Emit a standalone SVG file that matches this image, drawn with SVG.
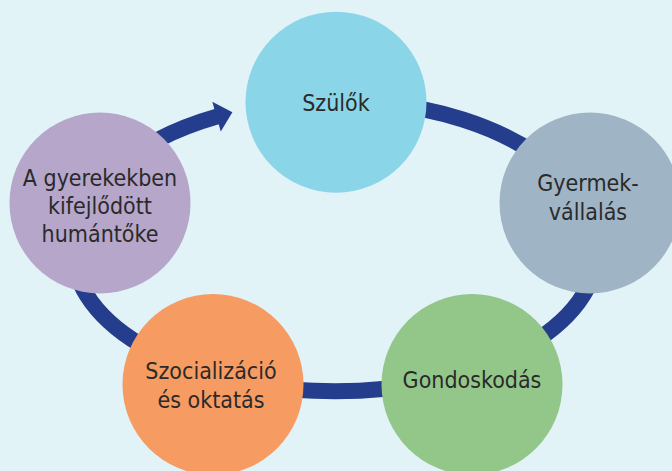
<svg xmlns="http://www.w3.org/2000/svg" width="672" height="471" viewBox="0 0 672 471">
<style>
.bg{fill:#e2f3f8}
.band{fill:none;stroke:#243d8c;stroke-width:16;stroke-linecap:butt}
.lbl{font-family:"DejaVu Sans Condensed","DejaVu Sans",sans-serif;font-stretch:condensed;font-size:23px;fill:#2a2a2a;text-anchor:middle}
</style>
<defs>
<marker id="arrow" markerUnits="userSpaceOnUse" orient="auto" markerWidth="17" markerHeight="32" viewBox="0 0 17 32" refX="1" refY="16" overflow="visible">
<path d="M0,0.6 L16.5,16 L0,31.4 Z" fill="#243d8c"/>
</marker>
</defs>
<rect class="bg" x="0" y="0" width="672" height="471"/>
<g id="connectors">
<path class="band" marker-end="url(#arrow)" d="M380,102.7 A262,149.5 0 0 1 597,250 A262,141.3 0 0 1 73,250 A262,149.5 0 0 1 217.5,116.4"/>
</g>
<g id="node-szulok">
<circle cx="336" cy="102.2" r="90.5" fill="#8bd5e8"/>
<text class="lbl" x="336" y="111">Szülők</text>
</g>
<g id="node-gyermekvallalas">
<circle cx="590" cy="203" r="90.5" fill="#9fb4c4"/>
<text class="lbl" x="588" y="191">Gyermek-</text>
<text class="lbl" x="588" y="220">vállalás</text>
</g>
<g id="node-gondoskodas">
<circle cx="472" cy="384.5" r="90.5" fill="#93c78a"/>
<text class="lbl" x="472" y="388">Gondoskodás</text>
</g>
<g id="node-szocializacio">
<circle cx="213" cy="384.5" r="90.5" fill="#f69b62"/>
<text class="lbl" x="211" y="379">Szocializáció</text>
<text class="lbl" x="211" y="407.5">és oktatás</text>
</g>
<g id="node-humantoke">
<circle cx="100" cy="203" r="90.5" fill="#b5a6ca"/>
<text class="lbl" x="100" y="186">A gyerekekben</text>
<text class="lbl" x="100" y="214">kifejlődött</text>
<text class="lbl" x="100" y="242">humántőke</text>
</g>
</svg>
